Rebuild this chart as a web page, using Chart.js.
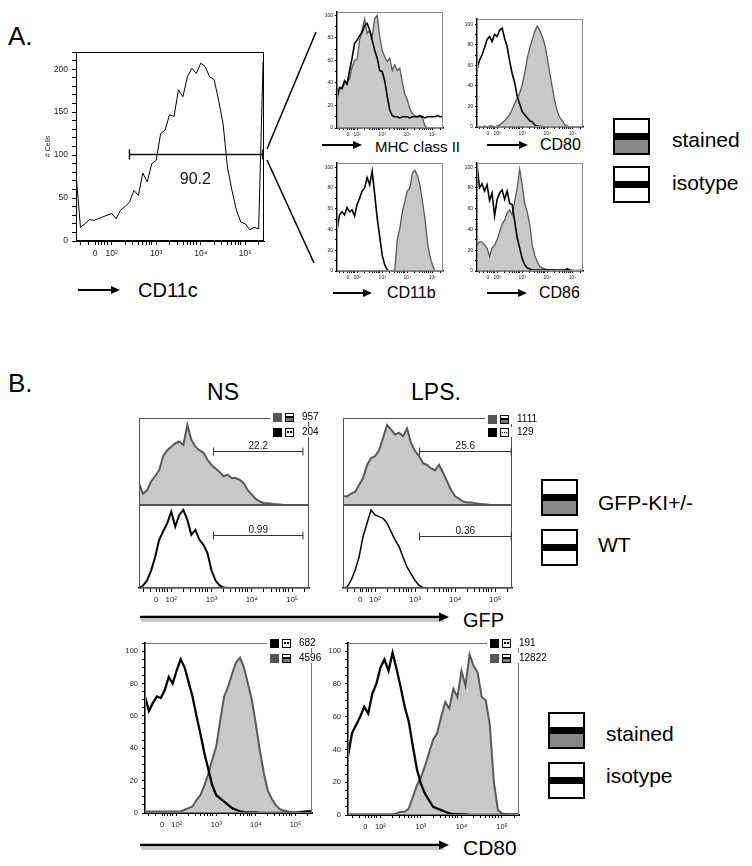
<!DOCTYPE html>
<html>
<head>
<meta charset="utf-8">
<script src="https://cdn.jsdelivr.net/npm/chart.js"></script>
<style>
    body { margin: 0; background: #fff; }
    #fig { position: relative; width: 752px; height: 866px; overflow: hidden; background: #fff;
           font-family: 'Liberation Sans', Arial, sans-serif; color: #000; }
    .t { position: absolute; line-height: 1; white-space: nowrap; transform: translateY(-50%); }
    .t.c { transform: translate(-50%, -50%); }
    .key { position: absolute; box-sizing: border-box; width: 37px; height: 37px; border: 2px solid #000; }
    .key.stained { background: linear-gradient(#fff 0 40%, #000 40% 62%, #888 62% 100%); }
    .key.isotype { background: linear-gradient(#fff 0 38%, #000 38% 60%, #fff 60% 100%); }
    .mini { position: absolute; display: flex; align-items: center; gap: 3px; height: 10px;
            padding: 0 2px 0 3px; background: #fff; font-size: 10px; line-height: 1; z-index: 2; }
    .mini .sq { width: 9px; height: 9px; }
    .mini .bx { position: relative; box-sizing: border-box; width: 9px; height: 9px; border: 1px solid #000; background: #fff; }
    .mini .bx.st { background: linear-gradient(#fff 0 35%, #000 35% 62%, #777 62%); }
    .mini .bx.dots::before { content: ''; position: absolute; left: 1px; top: 2.5px; width: 2px; height: 2px;
                             background: #000; box-shadow: 3px 0 0 #000; }
    .mini .bx.dash::before { content: ''; position: absolute; left: 1px; right: 1px; top: 3px; height: 1px;
                             background: repeating-linear-gradient(90deg, #000 0 1px, transparent 1px 2px); }
    .mini .num { margin-left: 5px; }
</style>
</head>
<body>
<div id="fig">
    <svg width="752" height="866" style="position:absolute;left:0;top:0">
        <!-- zoom lines from the CD11c gate -->
        <g stroke="#000" stroke-width="1.5">
            <line x1="267" y1="149" x2="316" y2="32"/>
            <line x1="267" y1="160" x2="314" y2="263"/>
        </g>
        <!-- shadows of the long B arrows -->
        <g stroke="#c8c8c8" stroke-width="3">
            <line x1="141" y1="620.5" x2="444" y2="620.5"/>
            <line x1="141" y1="848.5" x2="444" y2="848.5"/>
        </g>
        <g stroke="#000" stroke-width="2">
            <line x1="78" y1="290" x2="113" y2="290"/>
            <line x1="322" y1="145" x2="355" y2="145"/>
            <line x1="487" y1="145" x2="521" y2="145"/>
            <line x1="333" y1="293" x2="365" y2="293"/>
            <line x1="487" y1="293" x2="520" y2="293"/>
        </g>
        <g stroke="#000" stroke-width="2.5">
            <line x1="140" y1="617" x2="441" y2="617"/>
            <line x1="140" y1="845" x2="441" y2="845"/>
        </g>
        <g fill="#000">
            <polygon points="111,286 120,290 111,294"/>
            <polygon points="353,141 362,145 353,149"/>
            <polygon points="519,141 528,145 519,149"/>
            <polygon points="363,289 372,293 363,297"/>
            <polygon points="518,289 527,293 518,297"/>
            <polygon points="439,612.5 449,617 439,621.5"/>
            <polygon points="439,840.5 449,845 439,849.5"/>
        </g>
    </svg>

    <!-- A -->
    <div class="t" style="left:8px;top:36px;font-size:26px">A.</div>
    <div class="t" style="left:138px;top:290px;font-size:20px">CD11c</div>
    <div class="t" style="left:375px;top:146px;font-size:15px">MHC class II</div>
    <div class="t" style="left:540px;top:145px;font-size:16px">CD80</div>
    <div class="t" style="left:387px;top:293px;font-size:16px">CD11b</div>
    <div class="t" style="left:539px;top:293px;font-size:16px">CD86</div>
    <div class="key stained" style="left:613px;top:118px"></div>
    <div class="key isotype" style="left:613px;top:166px"></div>
    <div class="t" style="left:672px;top:139px;font-size:21px">stained</div>
    <div class="t" style="left:672px;top:182px;font-size:21px">isotype</div>

    <!-- B -->
    <div class="t" style="left:8px;top:383px;font-size:26px">B.</div>
    <div class="t c" style="left:223px;top:392px;font-size:23px">NS</div>
    <div class="t c" style="left:436px;top:392px;font-size:23px">LPS.</div>
    <div class="t" style="left:463px;top:620px;font-size:20px">GFP</div>
    <div class="t" style="left:463px;top:847px;font-size:21px">CD80</div>

    <div class="key stained" style="left:541px;top:479px"></div>
    <div class="key isotype" style="left:541px;top:529px"></div>
    <div class="t" style="left:598px;top:502px;font-size:21px">GFP-KI+/-</div>
    <div class="t" style="left:598px;top:544px;font-size:21px">WT</div>

    <div class="key stained" style="left:548px;top:712px"></div>
    <div class="key isotype" style="left:548px;top:762px"></div>
    <div class="t" style="left:606px;top:733px;font-size:21px">stained</div>
    <div class="t" style="left:606px;top:775px;font-size:21px">isotype</div>

    <!-- small MFI legends -->
    <div class="mini" style="left:270px;top:412px"><span class="sq" style="background:#555"></span><span class="bx st"></span><span class="num">957</span></div>
    <div class="mini" style="left:270px;top:427px"><span class="sq" style="background:#000"></span><span class="bx dots"></span><span class="num">204</span></div>
    <div class="mini" style="left:485px;top:414px"><span class="sq" style="background:#555"></span><span class="bx st"></span><span class="num">1111</span></div>
    <div class="mini" style="left:485px;top:427px"><span class="sq" style="background:#000"></span><span class="bx dash"></span><span class="num">129</span></div>
    <div class="mini" style="left:267px;top:638px"><span class="sq" style="background:#000"></span><span class="bx dots"></span><span class="num">682</span></div>
    <div class="mini" style="left:267px;top:653px"><span class="sq" style="background:#555"></span><span class="bx st"></span><span class="num">4596</span></div>
    <div class="mini" style="left:487px;top:638px"><span class="sq" style="background:#000"></span><span class="bx dots"></span><span class="num">191</span></div>
    <div class="mini" style="left:487px;top:653px"><span class="sq" style="background:#555"></span><span class="bx st"></span><span class="num">12822</span></div>
</div>

<script>
// Flow histograms - x is in display "decades" (2 = 10^2 ... 5 = 10^5), y is cell count / % of max
const binPos = [1.2, 1.3, 1.4, 1.5, 1.6, 1.7, 1.8, 1.9, 2.0, 2.1, 2.2, 2.3, 2.4, 2.5, 2.6, 2.7, 2.8, 2.9, 3.0, 3.1, 3.2,
                3.3, 3.4, 3.5, 3.6, 3.7, 3.8, 3.9, 4.0, 4.1, 4.2, 4.3, 4.4, 4.5, 4.6, 4.7, 4.8, 4.9, 5.0, 5.1, 5.2, 5.3, 5.4];
const xTickPos = [1.63, 2, 3, 4, 5];
const xTickLabels = ['0', '10²', '10³', '10⁴', '10⁵'];
const cellTicks = [0, 50, 100, 150, 200];
const pctTicks = [0, 20, 40, 60, 80, 100];

// A. CD11c gate plot
const cd11cCells = [78, 16, 20, 25, 24, 26, 28, 30, 32, 26, 36, 40, 45, 59, 53, 79, 69, 90, 94, 125, 129, 147, 145, 176, 168,
                    191, 201, 195, 207, 203, 191, 188, 164, 137, 86, 59, 36, 22, 20, 13, 16, 14, 209];
const gateCd11c = { from: 2.4, to: 5.39, level: 101, pct: '90.2' };

// A. marker panels
const mhcStained = [25, 35, 36, 39, 41, 44, 54, 60, 61, 78, 87, 97, 84, 87, 81, 97, 100, 81, 69, 63, 59, 62, 51, 56, 51,
                    53, 41, 30, 25, 17, 13, 11, 10, 10, 9, 2, 0, 0, 0, 0, 0, 0, 0];
const mhcIsotype = [28, 36, 35, 42, 39, 51, 62, 75, 78, 82, 85, 91, 93, 87, 78, 69, 62, 51, 50, 42, 28, 16, 11, 10, 10,
                    9, 10, 10, 10, 9, 10, 10, 10, 11, 10, 9, 10, 10, 10, 10, 11, 10, 10];
const cd80aStained = [0, 0, 0, 1, 0, 1, 1, 0, 1, 2, 4, 6, 9, 12, 17, 23, 28, 33, 41, 52, 67, 77, 85, 93, 98,
                      94, 88, 80, 67, 52, 38, 25, 15, 9, 6, 2, 1, 0, 0, 0, 0, 0, 0];
const cd80aIsotype = [56, 65, 70, 77, 85, 88, 83, 90, 88, 94, 96, 86, 78, 64, 52, 43, 30, 22, 15, 12, 9, 6, 5, 2, 1,
                      0.5, 0.5, 0, 0, 0, 0, 0, 0, 0, 0, 0, 0, 0, 0, 0, 0, 0, 0];
const cd11bStained = [0, 0, 0, 0, 0, 0, 0, 0, 0, 0, 0, 0, 0, 0, 0, 0, 0, 0, 0, 0, 0, 0, 0, 1, 30,
                      41, 57, 67, 77, 80, 94, 97, 92, 83, 67, 51, 28, 14, 6, 0, 0, 0, 0];
const cd11bIsotype = [40, 54, 57, 54, 61, 57, 59, 53, 64, 70, 77, 80, 90, 83, 96, 74, 51, 33, 15, 6, 1, 0, 0, 0, 0,
                      0, 0, 0, 0, 0, 0, 0, 0, 0, 0, 0, 0, 0, 0, 0, 0, 0, 0];
const cd86Stained = [25, 28, 28, 25, 22, 14, 22, 25, 30, 38, 45, 49, 56, 59, 54, 67, 80, 98, 83, 65, 57, 45, 25, 15, 9,
                     4, 3, 2, 1, 1, 1, 0.5, 0, 0, 0, 0, 0, 0, 0, 0, 0, 0, 0];
const cd86Isotype = [103, 80, 84, 77, 83, 68, 75, 53, 69, 75, 78, 69, 77, 65, 64, 48, 32, 22, 12, 6, 3, 2, 1, 1, 1,
                     1, 1, 1, 1, 1, 1, 1, 1, 1, 1, 1, 2, 1, 0.5, 0.5, 0.5, 0.5, 0.5];

// B. GFP, NS and LPS
const gfpNsKI = [25, 13, 17, 27, 33, 40, 56, 63, 67, 71, 73, 69, 92, 75, 67, 63, 60, 52, 46, 42, 38, 33, 35, 31, 31,
                 29, 25, 17, 12, 7, 4, 2, 2, 1.5, 1, 0.5, 0, 0, 0, 0, 0, 0, 0];
const gfpNsWT = [0, 3, 9, 21, 37, 58, 68, 78, 92, 74, 88, 94, 82, 64, 70, 58, 52, 42, 21, 9, 3, 0.5, 0, 0, 0,
                 0, 0, 0, 0, 0, 0, 0, 0, 0, 0, 0, 0, 0, 0, 0, 0, 0, 0];
const gfpLpsKI = [10, 10, 13, 15, 23, 31, 46, 54, 56, 63, 77, 92, 87, 81, 83, 79, 88, 71, 62, 56, 48, 46, 42, 40, 46,
                  37, 27, 17, 10, 7, 4, 3, 3, 2, 1.5, 1, 0.5, 0, 0, 0, 0, 0, 0];
const gfpLpsWT = [0, 1, 9, 21, 37, 62, 78, 94, 88, 86, 84, 78, 68, 58, 50, 37, 25, 17, 9, 3, 0.5, 0, 0, 0, 0,
                  0, 0, 0, 0, 0, 0, 0, 0, 0, 0, 0, 0, 0, 0, 0, 0, 0, 0];
const gateNsKI = { from: 3.05, to: 5.27, level: 62, pct: '22.2' };
const gateNsWT = { from: 3.05, to: 5.27, level: 64, pct: '0.99' };
const gateLpsKI = { from: 3.11, to: 5.4, level: 62, pct: '25.6' };
const gateLpsWT = { from: 3.11, to: 5.4, level: 63, pct: '0.36' };

// B. CD80, NS and LPS
const cd80NsStained = [1, 1, 1, 1, 1, 1, 1, 1, 1, 1, 2, 3, 4, 8, 11, 17, 24, 33, 41, 57, 72, 78, 86, 93, 96,
                       90, 80, 70, 55, 39, 25, 14, 9, 5, 2.5, 1.5, 1, 0.5, 0.5, 0.7, 1, 1, 1];
const cd80NsIsotype = [72, 63, 68, 72, 71, 76, 84, 80, 88, 95, 90, 81, 72, 60, 49, 37, 27, 17, 11, 9, 7, 5, 3, 2, 1,
                       0.6, 0.3, 0.3, 0.3, 0, 0, 0, 0, 0, 0, 0, 0, 0, 0, 0, 0.5, 1, 1];
const cd80LpsStained = [0.5, 0.5, 0.5, 0.5, 0.5, 0.5, 0.5, 0.5, 0.5, 0.5, 0.5, 0.5, 1, 2, 2, 4, 11, 18, 23, 30, 38, 46, 50, 60, 69,
                        65, 77, 72, 88, 79, 98, 91, 87, 72, 70, 55, 20, 3, 1, 0.5, 0.5, 0.5, 0.5];
const cd80LpsIsotype = [36, 50, 55, 60, 66, 62, 74, 80, 90, 95, 88, 99, 89, 78, 66, 57, 42, 28, 19, 13, 9, 5, 4, 3, 2,
                        1, 0.5, 0.5, 0.3, 0.3, 0, 0, 0, 0, 0, 0, 0, 0, 0, 0, 0, 0, 0];

const FONT = "'Liberation Sans', Arial, sans-serif";
const X_MIN = 1.2;
const X_MAX = 5.42;
const PAD = { left: 2, right: 3, top: 3, bottom: 2 };
const GREY_FILL = '#c8c8c8';
const GREY_LINE = '#5a5a5a';

// box around the plot area
const framePlugin = {
    id: 'frame',
    afterDatasetsDraw(chart, args, opts) {
        const { ctx, chartArea: a } = chart;
        ctx.save();
        ctx.strokeStyle = opts.color;
        ctx.lineWidth = opts.width;
        ctx.strokeRect(a.left + 0.5, a.top + 0.5, a.right - a.left - 1, a.bottom - a.top - 1);
        ctx.restore();
    }
};

// horizontal gate bar with its percentage
const gatePlugin = {
    id: 'gate',
    afterDatasetsDraw(chart, args, g) {
        if (!g || !g.pct) return;
        const { ctx } = chart;
        const xs = chart.scales.x, ys = chart.scales.y;
        const x0 = xs.getPixelForValue(g.from), x1 = xs.getPixelForValue(g.to);
        const y = Math.round(ys.getPixelForValue(g.level)) + 0.5;
        ctx.save();
        ctx.strokeStyle = g.color;
        ctx.lineWidth = g.width;
        ctx.beginPath();
        ctx.moveTo(x0, y); ctx.lineTo(x1, y);
        ctx.moveTo(x0, y - g.cap); ctx.lineTo(x0, y + g.cap);
        ctx.moveTo(x1, y - g.cap); ctx.lineTo(x1, y + g.cap);
        ctx.stroke();
        ctx.fillStyle = '#111';
        ctx.font = `${g.size}px ${FONT}`;
        ctx.textAlign = 'center';
        if (g.labelLevel !== undefined) {
            ctx.textBaseline = 'middle';
            ctx.fillText(g.pct, xs.getPixelForValue(g.labelAt), ys.getPixelForValue(g.labelLevel));
        } else {
            ctx.textBaseline = 'bottom';
            ctx.fillText(g.pct, (x0 + x1) / 2, y - 0.5);
        }
        ctx.restore();
    }
};

function toPoints(values) {
    return values.map((v, i) => ({ x: binPos[i], y: v }));
}

function stainedSet(values, width) {
    return { data: toPoints(values), borderColor: GREY_LINE, backgroundColor: GREY_FILL, fill: 'origin',
             borderWidth: width, pointRadius: 0, tension: 0 };
}

function lineSet(values, width) {
    return { data: toPoints(values), borderColor: '#000', fill: false, borderWidth: width, pointRadius: 0, tension: 0 };
}

// major decade ticks plus log minor ticks
function xTickList() {
    const list = xTickPos.slice();
    for (let d = 1; d <= 5; d++) {
        for (let k = 2; k <= 9; k++) {
            const v = d + Math.log10(k);
            if (v > X_MIN && v < X_MAX && xTickPos.every(p => Math.abs(p - v) > 0.05)) list.push(v);
        }
    }
    return list.sort((a, b) => a - b);
}

function xLabel(v) {
    const i = xTickPos.findIndex(p => Math.abs(p - v) < 1e-9);
    return i >= 0 ? xTickLabels[i] : '';
}

function yTickList(step, max) {
    const list = [];
    for (let v = 0; v <= max + 1e-9; v += step) list.push(Math.round(v * 100) / 100);
    return list;
}

function makePanel(frame, opt) {
    const fig = document.getElementById('fig');
    const yW = opt.yAxis ? opt.yAxis.width : 0;
    const xH = opt.xAxis ? opt.xAxis.height : 0;
    const w = PAD.left + yW + frame.w + PAD.right;
    const h = PAD.top + frame.h + xH + PAD.bottom;

    const canvas = document.createElement('canvas');
    canvas.width = w;
    canvas.height = h;
    canvas.style.cssText = `position:absolute;left:${frame.l - yW - PAD.left}px;top:${frame.t - PAD.top}px;width:${w}px;height:${h}px;`;
    fig.appendChild(canvas);

    const tickFont = { family: FONT, size: opt.fontSize };
    const xTicks = xTickList();
    const yTicks = opt.yAxis ? yTickList(opt.yAxis.minorStep, opt.yMax) : [];
    const yMajors = opt.yAxis ? opt.yAxis.majors : [];

    return new Chart(canvas, {
        type: 'line',
        data: { datasets: opt.datasets },
        options: {
            responsive: false,
            animation: false,
            devicePixelRatio: 1,
            layout: { padding: PAD },
            plugins: {
                legend: { display: false },
                tooltip: { enabled: false },
                frame: { color: opt.frameColor, width: 1 },
                gate: opt.gate || {}
            },
            scales: {
                x: {
                    type: 'linear',
                    min: X_MIN,
                    max: X_MAX,
                    display: !!opt.xAxis,
                    afterBuildTicks: s => { s.ticks = xTicks.map(v => ({ value: v })); },
                    afterFit: s => { s.height = xH; s.paddingLeft = 0; s.paddingRight = 0; },
                    grid: { drawOnChartArea: false, drawTicks: true, tickLength: opt.tickLen, tickColor: '#000' },
                    border: { display: true, color: '#000', width: opt.axisWidth },
                    ticks: { autoSkip: false, maxRotation: 0, minRotation: 0, padding: opt.tickPad,
                             font: tickFont, color: '#222', callback: v => xLabel(v) }
                },
                y: {
                    min: 0,
                    max: opt.yMax,
                    display: !!opt.yAxis,
                    afterBuildTicks: s => { s.ticks = yTicks.map(v => ({ value: v })); },
                    afterFit: s => { s.width = yW; s.paddingTop = 0; s.paddingBottom = 0; },
                    title: opt.yAxis && opt.yAxis.title
                        ? { display: true, text: opt.yAxis.title, font: { family: FONT, size: 7 }, color: '#222', padding: 0 }
                        : { display: false },
                    grid: { drawOnChartArea: false, drawTicks: true, tickLength: opt.tickLen, tickColor: '#000' },
                    border: { display: true, color: '#000', width: opt.axisWidth },
                    ticks: { autoSkip: false, padding: opt.tickPad, font: tickFont, color: '#222',
                             callback: v => (yMajors.includes(v) ? String(v) : '') }
                }
            }
        },
        plugins: [framePlugin, gatePlugin]
    });
}

document.addEventListener('DOMContentLoaded', () => {
    // A. CD11c with gate
    makePanel({ l: 76, t: 52, w: 188, h: 189 }, {
        yMax: 220, fontSize: 8.5, tickLen: 4, tickPad: 4, axisWidth: 1, frameColor: '#000',
        yAxis: { width: 32, majors: cellTicks, minorStep: 10, title: '# Cells' },
        xAxis: { height: 22 },
        datasets: [lineSet(cd11cCells, 1)],
        gate: { ...gateCd11c, labelAt: 3.88, labelLevel: 71, size: 16, cap: 5, width: 1.5, color: '#111' }
    });

    // A. marker panels
    const small = { fontSize: 5, tickLen: 2, tickPad: 2, axisWidth: 1.5, frameColor: '#8a8a8a',
                    xAxis: { height: 10 } };
    makePanel({ l: 337, t: 12, w: 106, h: 116 }, { ...small, yMax: 103,
        yAxis: { width: 14, majors: pctTicks, minorStep: 10 },
        datasets: [lineSet(mhcIsotype, 1.6), stainedSet(mhcStained, 1.3)] });
    makePanel({ l: 477, t: 19, w: 106, h: 108 }, { ...small, yMax: 105,
        yAxis: { width: 14, majors: pctTicks, minorStep: 10 },
        datasets: [lineSet(cd80aIsotype, 1.6), stainedSet(cd80aStained, 1.3)] });
    makePanel({ l: 337, t: 163, w: 106, h: 108 }, { ...small, yMax: 104,
        yAxis: { width: 14, majors: pctTicks, minorStep: 10 },
        datasets: [lineSet(cd11bIsotype, 1.6), stainedSet(cd11bStained, 1.3)] });
    makePanel({ l: 477, t: 163, w: 106, h: 108 }, { ...small, yMax: 104,
        yAxis: { width: 14, majors: pctTicks, minorStep: 10 },
        datasets: [lineSet(cd86Isotype, 1.6), stainedSet(cd86Stained, 1.3)] });

    // B. GFP: KI on top, WT below, shared x axis
    const gfp = { fontSize: 8, tickLen: 4, tickPad: 3, axisWidth: 1.5, frameColor: '#555', yMax: 100 };
    const gfpGate = { size: 10, cap: 4, width: 1, color: '#333' };
    makePanel({ l: 139, t: 418, w: 170, h: 87 }, { ...gfp,
        datasets: [stainedSet(gfpNsKI, 2)], gate: { ...gateNsKI, ...gfpGate } });
    makePanel({ l: 139, t: 505, w: 170, h: 83 }, { ...gfp, xAxis: { height: 20 },
        datasets: [lineSet(gfpNsWT, 2)], gate: { ...gateNsWT, ...gfpGate } });
    makePanel({ l: 343, t: 418, w: 169, h: 87 }, { ...gfp,
        datasets: [stainedSet(gfpLpsKI, 2)], gate: { ...gateLpsKI, ...gfpGate } });
    makePanel({ l: 343, t: 505, w: 169, h: 83 }, { ...gfp, xAxis: { height: 20 },
        datasets: [lineSet(gfpLpsWT, 1.5)], gate: { ...gateLpsWT, ...gfpGate } });

    // B. CD80
    const cd80 = { fontSize: 7.5, tickLen: 3, tickPad: 4, axisWidth: 2, frameColor: '#777', yMax: 105,
                   yAxis: { width: 20, majors: pctTicks, minorStep: 5 }, xAxis: { height: 20 } };
    makePanel({ l: 145, t: 643, w: 167, h: 170 }, { ...cd80,
        datasets: [lineSet(cd80NsIsotype, 2.3), stainedSet(cd80NsStained, 2)] });
    makePanel({ l: 348, t: 643, w: 171, h: 172 }, { ...cd80,
        datasets: [lineSet(cd80LpsIsotype, 2.3), stainedSet(cd80LpsStained, 2)] });
});
</script>
</body>
</html>
